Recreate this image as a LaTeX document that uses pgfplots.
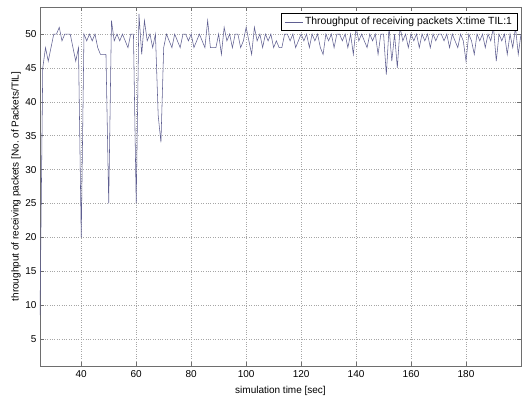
\documentclass[border=0pt]{standalone}
\usepackage{fontspec}
\setmainfont{Liberation Sans}
\usepackage{pgfplots}
\pgfplotsset{compat=1.18}
\usetikzlibrary{calc}
\definecolor{linec}{RGB}{95,95,145}
\definecolor{axc}{RGB}{110,110,110}
\pgfplotstableread{
t v
25 8.5
26 45
27 48
28 46
29 48
30 50
31 50
32 51
33 49
34 50
35 50
36 50
37 48
38 46
39 48
40 20
41 50
42 49
43 50
44 49
45 50
46 48
47 47
48 47
49 47
50 25
51 52
52 49
53 50
54 49
55 50
56 49
57 48
58 50
59 50
60 25
61 53
62 47
63 52
64 49
65 50
66 48
67 50
68 38
69 34
70 48
71 50
72 49
73 48
74 50
75 49
76 48
77 50
78 50
79 49
80 50
81 48
82 49
83 50
84 49
85 48
86 52
87 48
88 48
89 48
90 50
91 47
92 51
93 49
94 50
95 48
96 50
97 50
98 48
99 49
100 51
101 49
102 47
103 51
104 49
105 50
106 48
107 50
108 49
109 50
110 48
111 49
112 48
113 48
114 50
115 50
116 49
117 50
118 48
119 49
120 50
121 49
122 50
123 48
124 50
125 49
126 50
127 48
128 47
129 50
130 49
131 50
132 48
133 50
134 50
135 49
136 50
137 48
138 50
139 47
140 51
141 49
142 50
143 49
144 48
145 50
146 49
147 50
148 47
149 50
150 50
151 44
152 51
153 46
154 50
155 45
156 51
157 49
158 50
159 48
160 50
161 49
162 50
163 48
164 50
165 49
166 50
167 48
168 50
169 49
170 50
171 50
172 49
173 50
174 48
175 50
176 49
177 48
178 50
179 49
180 46
181 50
182 49
183 47
184 50
185 49
186 50
187 48
188 50
189 49
190 51
191 46
192 50
193 49
194 50
195 47
196 50
197 48
198 51
199 47
200 50
}\datatable
\begin{document}
\frenchspacing
\begin{tikzpicture}
\begin{axis}[
  scale only axis,
  width=481pt, height=359pt,
  xmin=25, xmax=200, ymin=1, ymax=54,
  xtick={40,60,...,180},
  ytick={5,10,...,50},
  grid=major,
  major grid style={dotted, gray!70, line width=0.5pt},
  axis line style={axc, line width=0.6pt},
  tick style={axc, line width=0.5pt},
  major tick length=4pt,
  tick align=inside,
  font=\fontsize{10}{12}\selectfont,
  tick label style={font=\fontsize{10}{12}\selectfont},
  /pgf/number format/assume math mode=true,
  xticklabel style={yshift=-1pt},
  xlabel={simulation time [sec]},
  ylabel={throughput of receiving packets [No.\ of Packets/TIL]},
  xlabel style={at={(axis description cs:0.5,-0.07)}, anchor=center},
  ylabel style={at={(axis description cs:-0.05,0.5)}, anchor=center, rotate=0},
  legend style={at={(0.992,0.983)}, anchor=north east, draw=black, fill=white,
    font=\fontsize{10.4}{12}\selectfont, inner xsep=3pt, inner ysep=2pt, row sep=0pt},
  legend image code/.code={\draw[#1] (0cm,0cm) -- (0.64cm,0cm);},
  legend cell align=left,
]
\addplot[linec, line width=0.55pt] table[x=t,y=v] {\datatable};
\addlegendentry{Throughput of receiving packets X:time TIL:1}
\end{axis}
\pgfresetboundingbox
\path[use as bounding box] ($(current axis.south west)+(-40pt,-34pt)$) rectangle ($(current axis.north east)+(1pt,7pt)$);
\end{tikzpicture}
\end{document}
